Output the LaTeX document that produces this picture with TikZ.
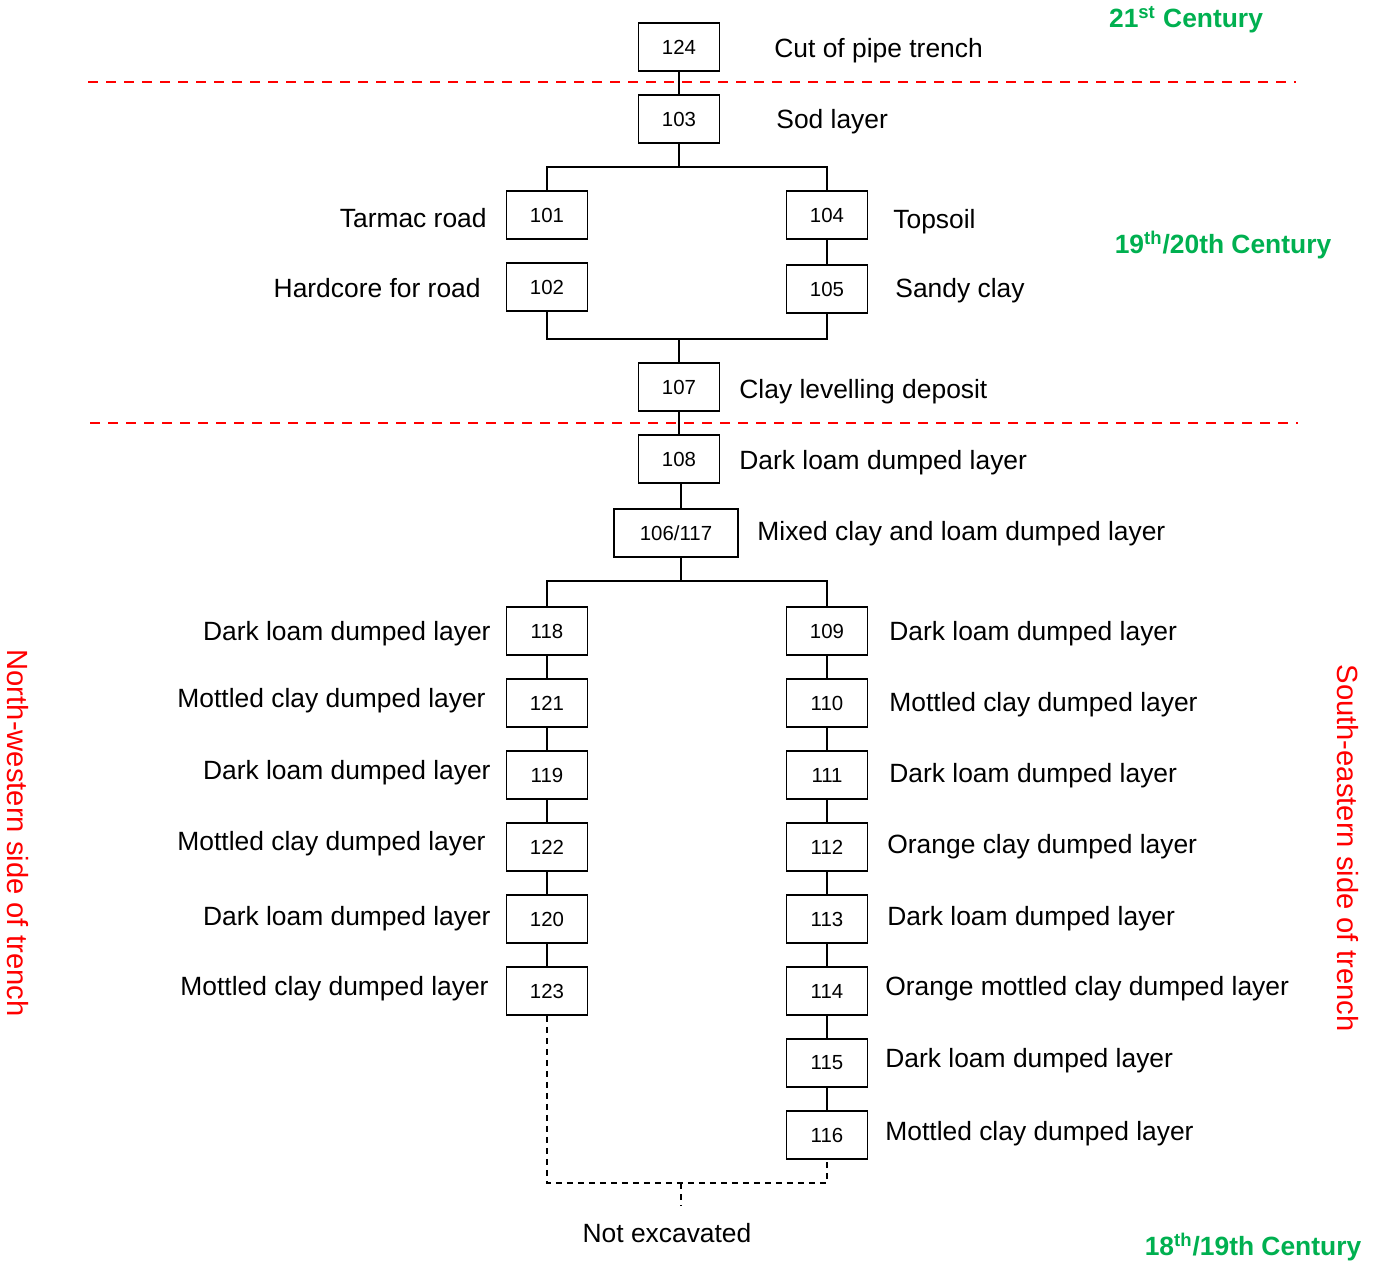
\documentclass[tikz,border=0pt]{standalone}
\usepackage{fontspec}
\setmainfont{Liberation Sans}
\usetikzlibrary{positioning}
\definecolor{periodcolor}{RGB}{0,176,80}
\definecolor{sidecolor}{RGB}{255,0,0}

\begin{document}
\begin{tikzpicture}[
    x=0.5pt, y=-0.5pt,
    every node/.style={font=\fontsize{13.2}{15}\selectfont},
    ctx/.style={draw, line width=0.9pt, minimum width=40.5pt, minimum height=24pt,
        inner sep=0pt, font=\fontsize{10.2}{12}\selectfont},
    lbl/.style={inner sep=0pt, yshift=-1.5pt},
    link/.style={line width=0.9pt},
    unseen/.style={line width=0.9pt, dash pattern=on 3pt off 2.5pt},
    period/.style={periodcolor, inner sep=0pt, yshift=-1pt, font=\bfseries\fontsize{13.2}{15}\selectfont},
    side/.style={sidecolor, inner sep=0pt, rotate=-90, font=\fontsize{14.6}{17}\selectfont},
    phase/.style={sidecolor, line width=1.2pt, dash pattern=on 5pt off 4pt},
]
    \useasboundingbox (0,0) rectangle (1381,1260);

    % Phase dividers
    \draw[phase] (88,82) -- (1296,82);
    \draw[phase] (90,423) -- (1298,423);

    % Upper contexts
    \node[ctx] (n124) at (679,47) {124};
    \node[ctx] (n103) at (679,119) {103};
    \node[ctx] (n101) at (547,215) {101};
    \node[ctx] (n104) at (827,215) {104};
    \node[ctx] (n102) at (547,287) {102};
    \node[ctx] (n105) at (827,289) {105};
    \node[ctx] (n107) at (679,387) {107};
    \node[ctx] (n108) at (679,459) {108};
    \node[ctx, minimum width=62pt] (n106) at (676,533) {106/117};

    \node[lbl, anchor=west] (l124) at (774,48) {Cut of pipe trench};
    \node[lbl, anchor=west] (l103) at (776,119) {Sod layer};
    \node[lbl, anchor=east] (l101) at (487,215) {Tarmac road};
    \node[lbl, anchor=west] (l104) at (893,219) {Topsoil};
    \node[lbl, anchor=east] (l102) at (481,285) {Hardcore for road};
    \node[lbl, anchor=west] (l105) at (895,288) {Sandy clay};
    \node[lbl, anchor=west] (l107) at (739,389) {Clay levelling deposit};
    \node[lbl, anchor=west] (l108) at (739,460) {Dark loam dumped layer};
    \node[lbl, anchor=west] (l106) at (757,531) {Mixed clay and loam dumped layer};

    % North-western column
    \node[ctx] (n118) at (547,631) {118};
    \node[ctx] (n121) at (547,703) {121};
    \node[ctx] (n119) at (547,775) {119};
    \node[ctx] (n122) at (547,847) {122};
    \node[ctx] (n120) at (547,919) {120};
    \node[ctx] (n123) at (547,991) {123};

    \node[lbl, anchor=east] (l118) at (491,631) {Dark loam dumped layer};
    \node[lbl, anchor=east] (l121) at (486,698) {Mottled clay dumped layer};
    \node[lbl, anchor=east] (l119) at (491,770) {Dark loam dumped layer};
    \node[lbl, anchor=east] (l122) at (486,841) {Mottled clay dumped layer};
    \node[lbl, anchor=east] (l120) at (491,916) {Dark loam dumped layer};
    \node[lbl, anchor=east] (l123) at (489,986) {Mottled clay dumped layer};

    % South-eastern column
    \node[ctx] (n109) at (827,631) {109};
    \node[ctx] (n110) at (827,703) {110};
    \node[ctx] (n111) at (827,775) {111};
    \node[ctx] (n112) at (827,847) {112};
    \node[ctx] (n113) at (827,919) {113};
    \node[ctx] (n114) at (827,991) {114};
    \node[ctx] (n115) at (827,1063) {115};
    \node[ctx] (n116) at (827,1135) {116};

    \node[lbl, anchor=west] (l109) at (889,631) {Dark loam dumped layer};
    \node[lbl, anchor=west] (l110) at (889,702) {Mottled clay dumped layer};
    \node[lbl, anchor=west] (l111) at (889,773) {Dark loam dumped layer};
    \node[lbl, anchor=west] (l112) at (887,844) {Orange clay dumped layer};
    \node[lbl, anchor=west] (l113) at (887,916) {Dark loam dumped layer};
    \node[lbl, anchor=west] (l114) at (885,986) {Orange mottled clay dumped layer};
    \node[lbl, anchor=west] (l115) at (885,1058) {Dark loam dumped layer};
    \node[lbl, anchor=west] (l116) at (885,1131) {Mottled clay dumped layer};

    % Stratigraphic links
    \coordinate (split1) at (679,167);
    \coordinate (join1) at (679,339);
    \coordinate (split2) at (681,581);
    \draw[link] (n124) -- (n103);
    \draw[link] (n103) -- (split1);
    \draw[link] (n101.north) |- (split1) -| (n104.north);
    \draw[link] (n104) -- (n105);
    \draw[link] (n102.south) |- (join1) -| (n105.south);
    \draw[link] (join1) -- (n107);
    \draw[link] (n107) -- (n108);
    \draw[link] (split2 |- n108.south) -- (split2 |- n106.north);
    \draw[link] (split2 |- n106.south) -- (split2);
    \draw[link] (n118.north) |- (split2) -| (n109.north);
    \draw[link] (n118) -- (n121) -- (n119) -- (n122) -- (n120) -- (n123);
    \draw[link] (n109) -- (n110) -- (n111) -- (n112) -- (n113) -- (n114) -- (n115) -- (n116);

    % Unexcavated base
    \coordinate (dig) at (681,1183);
    \coordinate (digend) at (681,1206);
    \node (unexc) at (667,1233) {Not excavated};
    \draw[unseen] (n123.south) |- (dig) -| (n116.south);
    \draw[unseen] (dig) -- (digend);

    % Periods and sides
    \node[period] (p21) at (1186,18) {21\textsuperscript{st} Century};
    \node[period] (p19) at (1223,243) {19\textsuperscript{th}/20th Century};
    \node[period] (p18) at (1253,1245) {18\textsuperscript{th}/19th Century};
    \node[side] (nw) at (18,833) {North-western side of trench};
    \node[side] (se) at (1348,848) {South-eastern side of trench};
\end{tikzpicture}
\end{document}
